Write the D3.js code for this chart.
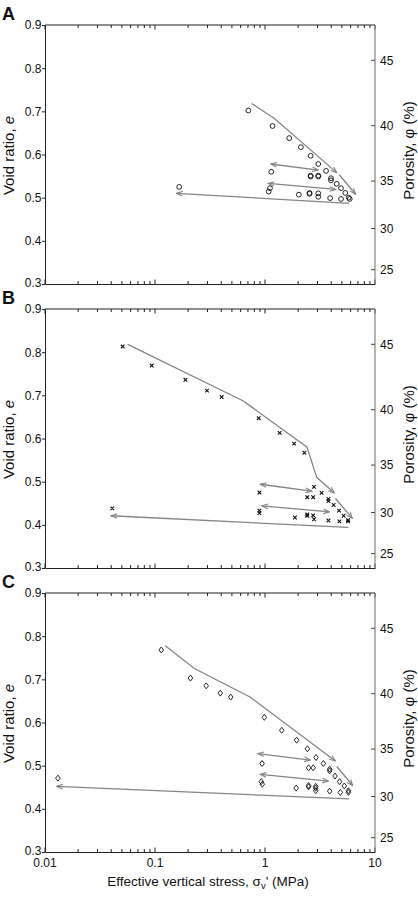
<!DOCTYPE html>
<html>
<head>
<meta charset="utf-8">
<script src="https://cdn.jsdelivr.net/npm/d3@7"></script>
<style>
  body { margin: 0; background: #fff; }
  svg { display: block; font-family: "Liberation Sans", Arial, Helvetica, sans-serif; }
</style>
</head>
<body>
<svg id="chart" width="418" height="900"></svg>
<script>
// ---- data ----
const xTickLabels = ['0.01', '0.1', '1', '10'];
const voidTicks = [0.3, 0.4, 0.5, 0.6, 0.7, 0.8, 0.9];
const porosityTicks = [25, 30, 35, 40, 45];

// Panel A (circles)
const stressA = [0.705, 1.17, 1.66, 2.12, 2.60, 3.05, 3.59, 3.98, 3.98, 4.49, 4.91, 5.37, 5.77, 5.89, 4.91, 3.91, 3.05, 3.05, 3.05, 3.05, 2.60, 2.60, 2.54, 2.54, 2.03, 1.14, 1.11, 1.08, 0.166];
const voidA = [0.702, 0.666, 0.638, 0.617, 0.597, 0.578, 0.562, 0.545, 0.540, 0.532, 0.522, 0.511, 0.500, 0.497, 0.497, 0.499, 0.502, 0.510, 0.549, 0.551, 0.549, 0.551, 0.511, 0.509, 0.507, 0.560, 0.522, 0.514, 0.525];
const loadA1 = [[0.757, 0.718], [1.21, 0.684], [4.49, 0.558]];
const loadA2 = [[4.73, 0.553], [6.67, 0.508]];
const cyclesA = [[[1.13, 0.578], [3.05, 0.564]], [[1.07, 0.533], [4.39, 0.519]]];
const unloadA = [[5.81, 0.487], [0.157, 0.510]];

// Panel B (crosses)
const stressB = [0.0508, 0.0933, 0.189, 0.297, 0.404, 0.877, 1.36, 1.84, 2.28, 2.79, 3.27, 2.42, 2.74, 3.77, 3.77, 4.21, 4.71, 5.19, 5.69, 5.69, 4.75, 3.77, 2.79, 2.74, 2.42, 2.42, 1.87, 0.89, 0.89, 0.89, 0.0409];
const voidB = [0.813, 0.769, 0.736, 0.711, 0.696, 0.647, 0.613, 0.588, 0.567, 0.488, 0.474, 0.464, 0.464, 0.460, 0.455, 0.446, 0.433, 0.421, 0.411, 0.408, 0.408, 0.410, 0.413, 0.422, 0.424, 0.421, 0.417, 0.475, 0.433, 0.427, 0.438];
const loadB1 = [[0.0565, 0.818], [0.635, 0.687], [2.41, 0.580], [2.95, 0.510], [4.27, 0.474]];
const loadB2 = [[4.37, 0.461], [6.22, 0.415]];
const cyclesB = [[[0.907, 0.494], [2.65, 0.478]], [[0.94, 0.444], [3.85, 0.430]]];
const unloadB = [[5.7, 0.394], [0.0398, 0.421]];

// Panel C (diamonds)
const stressC = [0.114, 0.210, 0.292, 0.392, 0.488, 0.986, 1.42, 1.94, 2.43, 2.91, 3.39, 3.87, 3.87, 4.33, 4.77, 5.26, 5.73, 5.73, 4.84, 3.87, 2.49, 2.74, 2.49, 2.49, 2.89, 2.89, 2.89, 1.92, 0.94, 0.925, 0.945, 0.0131];
const voidC = [0.768, 0.703, 0.685, 0.668, 0.659, 0.612, 0.582, 0.559, 0.539, 0.519, 0.505, 0.492, 0.488, 0.476, 0.463, 0.453, 0.442, 0.438, 0.438, 0.441, 0.495, 0.495, 0.454, 0.451, 0.452, 0.448, 0.442, 0.448, 0.505, 0.463, 0.457, 0.471];
const loadC1 = [[0.124, 0.778], [0.228, 0.725], [0.731, 0.659], [4.36, 0.511]];
const loadC2 = [[4.49, 0.498], [6.27, 0.454]];
const cyclesC = [[[0.862, 0.528], [2.58, 0.513]], [[0.907, 0.480], [3.77, 0.464]]];
const unloadC = [[5.81, 0.423], [0.0128, 0.452]];

// ---- layout ----
const left = 45, right = 375, panelH = 259;
const gray = '#858585';
const svg = d3.select('#chart');

const x = d3.scaleLog().domain([0.01, 10]).range([left, right]);
const majorTicks = [0.01, 0.1, 1, 10];
const allTicks = x.ticks();

// arrowhead marker
const defs = svg.append('defs');
defs.append('marker')
  .attr('id', 'arrow')
  .attr('viewBox', '-7 -4 8 8')
  .attr('refX', 0).attr('refY', 0)
  .attr('markerWidth', 8).attr('markerHeight', 8)
  .attr('markerUnits', 'userSpaceOnUse')
  .attr('orient', 'auto-start-reverse')
  .append('path')
  .attr('d', 'M-6,-2.3 L0,0 L-6,2.3')
  .attr('fill', 'none')
  .attr('stroke', gray)
  .attr('stroke-width', 1.1);

const panels = [
  { label: 'A', top: 25, stress: stressA, voids: voidA, load1: loadA1, load2: loadA2, cycles: cyclesA, unload: unloadA, symbol: 'circle' },
  { label: 'B', top: 309, stress: stressB, voids: voidB, load1: loadB1, load2: loadB2, cycles: cyclesB, unload: unloadB, symbol: 'cross' },
  { label: 'C', top: 593, stress: stressC, voids: voidC, load1: loadC1, load2: loadC2, cycles: cyclesC, unload: unloadC, symbol: 'diamond', xLabels: true }
];

panels.forEach(p => {
  const y = d3.scaleLinear().domain([0.3, 0.9]).range([p.top + panelH, p.top]);
  const g = svg.append('g');
  const bottom = p.top + panelH;

  // bottom axis (ticks inward)
  const bAxis = d3.axisBottom(x).tickValues(allTicks)
    .tickSizeInner(0).tickSizeOuter(0).tickFormat('');
  g.append('g').attr('transform', `translate(0,${bottom})`).call(bAxis)
    .call(s => s.select('.domain').attr('stroke', '#222'));
  g.append('g').selectAll('line').data(allTicks).join('line')
    .attr('x1', d => x(d)).attr('x2', d => x(d))
    .attr('y1', bottom).attr('y2', d => bottom - (majorTicks.includes(d) ? 4.5 : 3))
    .attr('stroke', '#222').attr('stroke-width', 1);

  // top border with ticks inward
  g.append('line').attr('x1', left).attr('x2', right).attr('y1', p.top).attr('y2', p.top)
    .attr('stroke', '#222');
  g.append('g').selectAll('line').data(allTicks).join('line')
    .attr('x1', d => x(d)).attr('x2', d => x(d))
    .attr('y1', p.top).attr('y2', d => p.top + (majorTicks.includes(d) ? 4.5 : 3))
    .attr('stroke', '#222').attr('stroke-width', 1);

  if (p.xLabels) {
    g.append('g').selectAll('text').data(majorTicks).join('text')
      .attr('x', d => x(d)).attr('y', bottom + 15)
      .attr('text-anchor', 'middle').attr('font-size', 12).attr('fill', '#111')
      .text((d, i) => xTickLabels[i]);
  }

  // left axis
  const lAxis = d3.axisLeft(y).tickValues(voidTicks).tickSize(3).tickSizeOuter(0)
    .tickFormat(d3.format('.1f'));
  g.append('g').attr('transform', `translate(${left},0)`).call(lAxis)
    .call(s => s.select('.domain').attr('stroke', '#222'))
    .call(s => s.selectAll('.tick line').attr('stroke', '#222'))
    .call(s => s.selectAll('.tick text').attr('font-size', 12).attr('fill', '#111')
      .attr('font-family', '"Liberation Sans", Arial, sans-serif').attr('x', -3.5)
      .attr('dy', d => d === 0.3 ? '0.2em' : '0.32em'));

  // right porosity axis (gray line, ticks inward)
  g.append('line').attr('x1', right).attr('x2', right).attr('y1', p.top).attr('y2', bottom)
    .attr('stroke', gray).attr('stroke-width', 1.2);
  const pe = phi => phi / (100 - phi);
  const rt = g.append('g').selectAll('g').data(porosityTicks).join('g');
  rt.append('line').attr('x1', right - 4).attr('x2', right)
    .attr('y1', d => y(pe(d))).attr('y2', d => y(pe(d)))
    .attr('stroke', '#444');
  rt.append('text').attr('x', right + 5).attr('y', d => y(pe(d)) + 4.3)
    .attr('font-size', 12).attr('fill', '#111').text(d => d);

  // lines
  const line = d3.line().x(d => x(d[0])).y(d => y(d[1]));
  const lineStyle = s => s.attr('fill', 'none').attr('stroke', gray).attr('stroke-width', 1.3);
  g.append('path').datum(p.load1).attr('d', line).call(lineStyle).attr('marker-end', 'url(#arrow)');
  g.append('path').datum(p.load2).attr('d', line).call(lineStyle).attr('marker-end', 'url(#arrow)');
  p.cycles.forEach(c => {
    g.append('path').datum(c).attr('d', line).call(lineStyle)
      .attr('marker-start', 'url(#arrow)').attr('marker-end', 'url(#arrow)');
  });
  g.append('path').datum(p.unload).attr('d', line).call(lineStyle).attr('marker-end', 'url(#arrow)');

  // points
  const pts = p.stress.map((s, i) => [s, p.voids[i]]);
  const pg = g.append('g').selectAll('path').data(pts).join('path')
    .attr('transform', d => `translate(${x(d[0])},${y(d[1])})`)
    .attr('fill', 'none').attr('stroke', '#111').attr('stroke-width', 0.9);
  if (p.symbol === 'circle') pg.attr('d', 'M2.4,0 A2.4,2.4 0 1,1 -2.4,0 A2.4,2.4 0 1,1 2.4,0');
  if (p.symbol === 'cross') pg.attr('d', 'M-1.8,-1.8 L1.8,1.8 M-1.8,1.8 L1.8,-1.8').attr('stroke-width', 1.1);
  if (p.symbol === 'diamond') pg.attr('d', 'M0,-3 L2.3,0 L0,3 L-2.3,0 Z');

  // panel letter
  svg.append('text').attr('x', 2).attr('y', p.top - 5)
    .attr('font-size', 18).attr('font-weight', 'bold').attr('fill', '#111').text(p.label);

  // y titles
  const mid = p.top + panelH / 2;
  const yt = svg.append('text').attr('transform', `translate(14,${mid + 1}) rotate(-90)`)
    .attr('text-anchor', 'middle').attr('font-size', 15).attr('fill', '#111');
  yt.append('tspan').text('Void ratio, ');
  yt.append('tspan').attr('font-style', 'italic').text('e');
  svg.append('text').attr('transform', `translate(414,${mid - 4}) rotate(-90)`)
    .attr('text-anchor', 'middle').attr('font-size', 15).attr('fill', '#111')
    .text('Porosity, \u03c6 (%)');
});

// x title
const xt = svg.append('text').attr('x', 208).attr('y', 886)
  .attr('text-anchor', 'middle').attr('font-size', 13.5).attr('fill', '#111');
xt.append('tspan').text('Effective vertical stress, \u03c3');
xt.append('tspan').attr('dy', 3).attr('font-size', 9.5).text('v');
xt.append('tspan').attr('dy', -3).text("' (MPa)");
</script>
</body>
</html>
